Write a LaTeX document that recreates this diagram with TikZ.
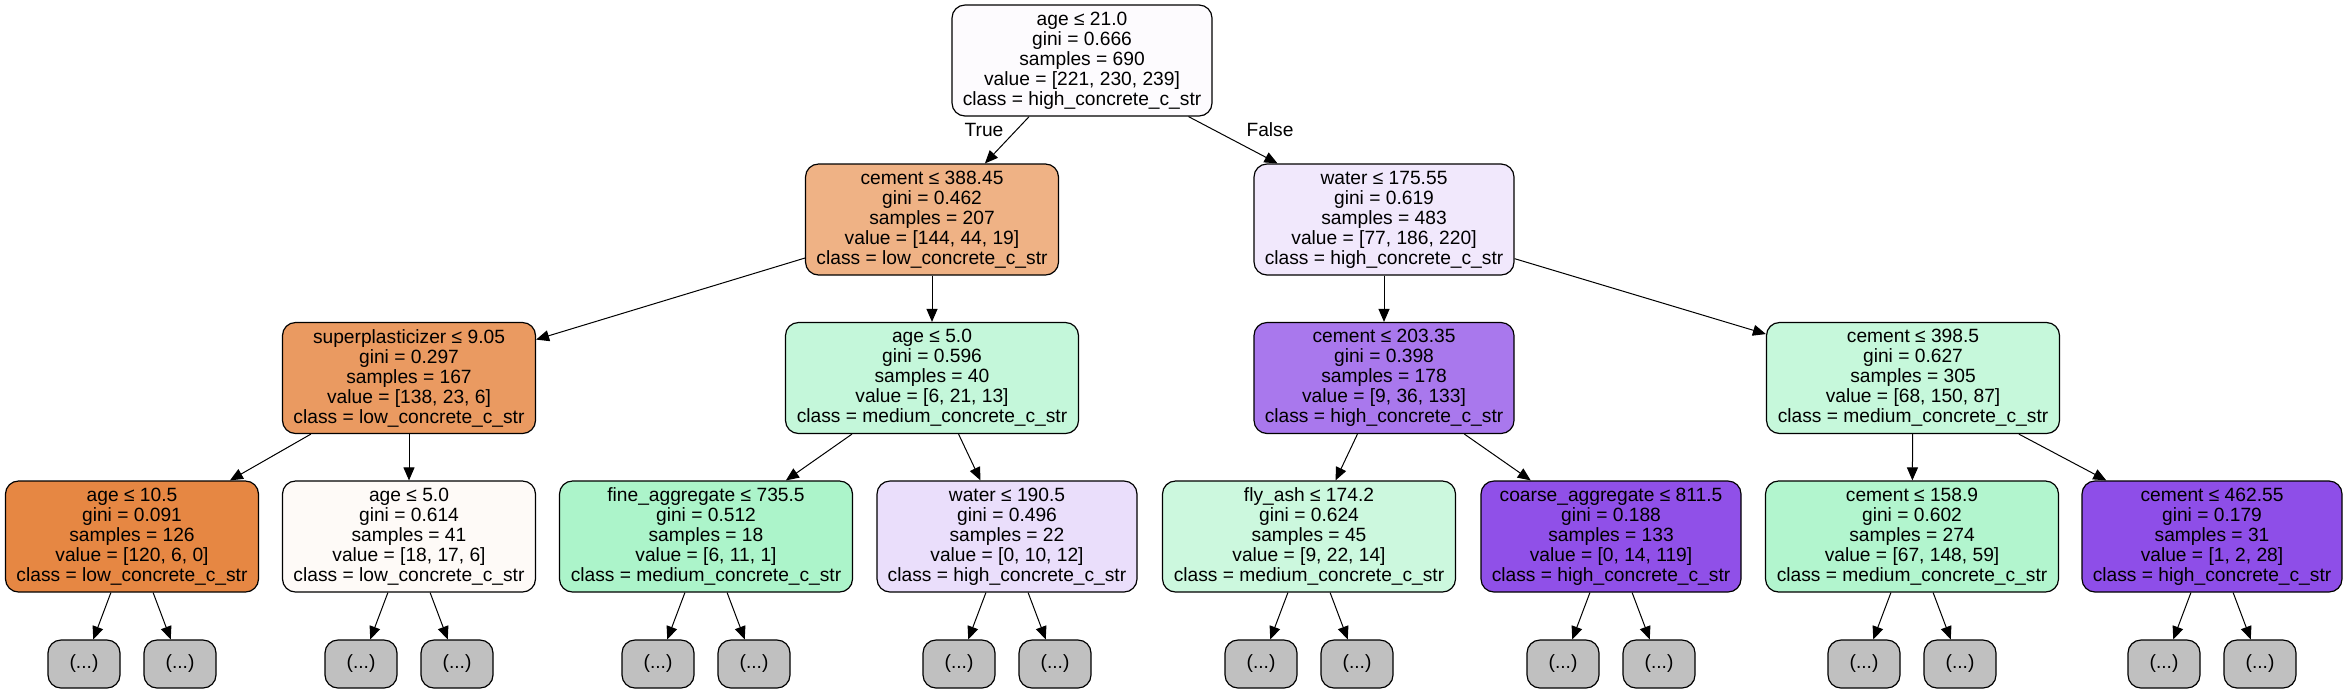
\documentclass[tikz,border=0pt]{standalone}
\usepackage{fontspec}
\setmainfont{Liberation Sans}
\usetikzlibrary{arrows.meta}
\definecolor{c0}{RGB}{253,251,254}
\definecolor{c1}{RGB}{239,178,133}
\definecolor{c2}{RGB}{241,232,252}
\definecolor{c3}{RGB}{234,154,97}
\definecolor{c4}{RGB}{196,247,218}
\definecolor{c5}{RGB}{169,120,237}
\definecolor{c6}{RGB}{198,248,219}
\definecolor{c7}{RGB}{230,135,67}
\definecolor{c8}{RGB}{254,250,247}
\definecolor{c9}{RGB}{172,244,202}
\definecolor{c10}{RGB}{234,222,251}
\definecolor{c11}{RGB}{204,248,222}
\definecolor{c12}{RGB}{144,80,232}
\definecolor{c13}{RGB}{178,245,206}
\definecolor{c14}{RGB}{142,78,232}
\definecolor{leafgray}{RGB}{192,192,192}
\tikzset{
  tnode/.style={draw=black, line width=0.6pt, rounded corners=6.5pt, align=center,
    font=\fontsize{9.6}{10}\selectfont, minimum height=55.5pt, inner xsep=0pt, inner ysep=0pt},
  hi/.style={tnode, minimum width=130pt},
  lo/.style={tnode, minimum width=126.5pt},
  med/.style={tnode, minimum width=146.5pt},
  leaf/.style={draw=black, line width=0.6pt, rounded corners=6.5pt, fill=leafgray,
    minimum width=36pt, minimum height=24pt, inner sep=0pt, font=\fontsize{9.6}{10}\selectfont},
  edge/.style={draw=black, line width=0.5pt, -{Triangle[length=6.5pt,width=5.5pt]}},
  elabel/.style={font=\fontsize{9.6}{10}\selectfont}
}
\begin{document}
\begin{tikzpicture}[x=0.5pt, y=-0.5pt]
\useasboundingbox (0,0) rectangle (2349,693);
% level 0
\node[hi, fill=c0] (n0) at (1082,60.5) {age ≤ 21.0\\gini = 0.666\\samples = 690\\value = [221, 230, 239]\\class = high\_concrete\_c\_str};
% level 1
\node[lo, fill=c1] (n1) at (932,219.5) {cement ≤ 388.45\\gini = 0.462\\samples = 207\\value = [144, 44, 19]\\class = low\_concrete\_c\_str};
\node[hi, fill=c2] (n2) at (1384,219.5) {water ≤ 175.55\\gini = 0.619\\samples = 483\\value = [77, 186, 220]\\class = high\_concrete\_c\_str};
% level 2
\node[lo, fill=c3] (n3) at (409,378) {superplasticizer ≤ 9.05\\gini = 0.297\\samples = 167\\value = [138, 23, 6]\\class = low\_concrete\_c\_str};
\node[med, fill=c4] (n4) at (932,378) {age ≤ 5.0\\gini = 0.596\\samples = 40\\value = [6, 21, 13]\\class = medium\_concrete\_c\_str};
\node[hi, fill=c5] (n5) at (1384,378) {cement ≤ 203.35\\gini = 0.398\\samples = 178\\value = [9, 36, 133]\\class = high\_concrete\_c\_str};
\node[med, fill=c6] (n6) at (1913,378) {cement ≤ 398.5\\gini = 0.627\\samples = 305\\value = [68, 150, 87]\\class = medium\_concrete\_c\_str};
% level 3
\node[lo, fill=c7] (n7) at (132,536.5) {age ≤ 10.5\\gini = 0.091\\samples = 126\\value = [120, 6, 0]\\class = low\_concrete\_c\_str};
\node[lo, fill=c8] (n8) at (409,536.5) {age ≤ 5.0\\gini = 0.614\\samples = 41\\value = [18, 17, 6]\\class = low\_concrete\_c\_str};
\node[med, fill=c9] (n9) at (706,536.5) {fine\_aggregate ≤ 735.5\\gini = 0.512\\samples = 18\\value = [6, 11, 1]\\class = medium\_concrete\_c\_str};
\node[hi, fill=c10] (n10) at (1007,536.5) {water ≤ 190.5\\gini = 0.496\\samples = 22\\value = [0, 10, 12]\\class = high\_concrete\_c\_str};
\node[med, fill=c11] (n11) at (1309,536.5) {fly\_ash ≤ 174.2\\gini = 0.624\\samples = 45\\value = [9, 22, 14]\\class = medium\_concrete\_c\_str};
\node[hi, fill=c12] (n12) at (1611,536.5) {coarse\_aggregate ≤ 811.5\\gini = 0.188\\samples = 133\\value = [0, 14, 119]\\class = high\_concrete\_c\_str};
\node[med, fill=c13] (n13) at (1912,536.5) {cement ≤ 158.9\\gini = 0.602\\samples = 274\\value = [67, 148, 59]\\class = medium\_concrete\_c\_str};
\node[hi, fill=c14] (n14) at (2212,536.5) {cement ≤ 462.55\\gini = 0.179\\samples = 31\\value = [1, 2, 28]\\class = high\_concrete\_c\_str};
% leaves
\foreach \p/\x in {7/132, 8/409, 9/706, 10/1007, 11/1309, 12/1611, 13/1912, 14/2212} {
  \node[leaf] (l\p a) at (\x-48,664) {(...)};
  \node[leaf] (l\p b) at (\x+48,664) {(...)};
  \draw[edge] (n\p) -- (l\p a);
  \draw[edge] (n\p) -- (l\p b);
}
% edges
\draw[edge] (n0) -- (n1);
\draw[edge] (n0) -- (n2);
\draw[edge] (n1) -- (n3);
\draw[edge] (n1) -- (n4);
\draw[edge] (n2) -- (n5);
\draw[edge] (n2) -- (n6);
\draw[edge] (n3) -- (n7);
\draw[edge] (n3) -- (n8);
\draw[edge] (n4) -- (n9);
\draw[edge] (n4) -- (n10);
\draw[edge] (n5) -- (n11);
\draw[edge] (n5) -- (n12);
\draw[edge] (n6) -- (n13);
\draw[edge] (n6) -- (n14);
\node[elabel] (tlab) at (984,130) {True};
\node[elabel] (flab) at (1270,130) {False};
\end{tikzpicture}
\end{document}
